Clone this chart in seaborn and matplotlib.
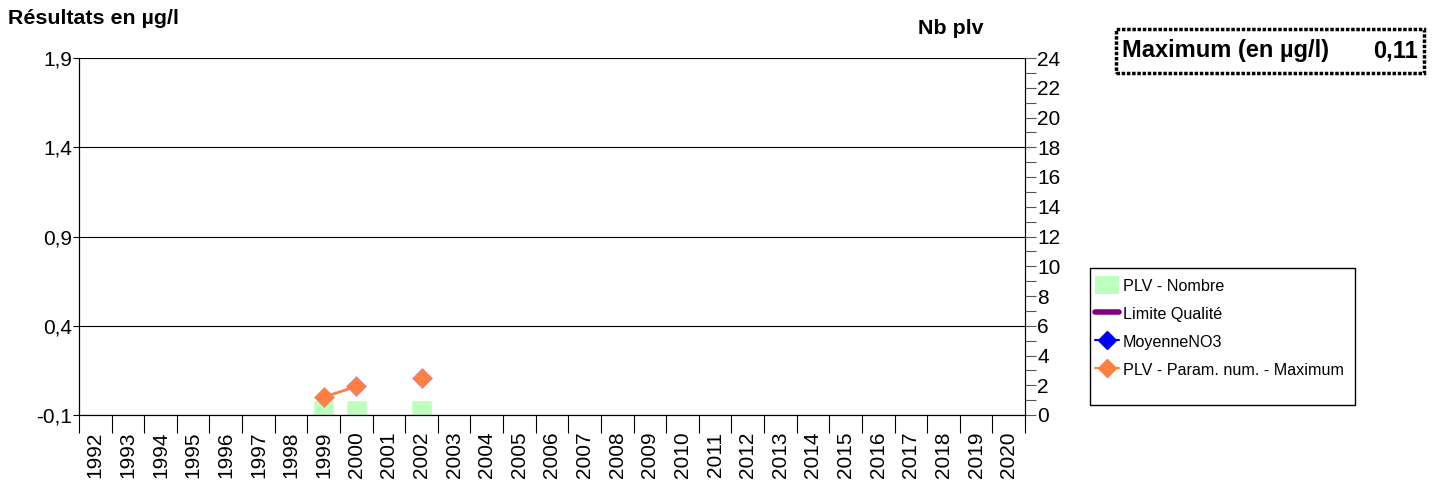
import numpy as np
import pandas as pd
import matplotlib
matplotlib.use("Agg")
import matplotlib.pyplot as plt
import seaborn as sns
from matplotlib.patches import Patch, Rectangle
from matplotlib.lines import Line2D
from matplotlib.ticker import MultipleLocator, FixedLocator

years = [str(y) for y in range(1992, 2021)]
nb_plv = [0, 0, 0, 0, 0, 0, 0, 1, 1, 0, 1] + [0] * 18
max_vals = [np.nan] * 7 + [0.0, 0.06, np.nan, 0.11] + [np.nan] * 18
left_ticks = [-0.1, 0.4, 0.9, 1.4, 1.9]
left_labels = ["-0,1", "0,4", "0,9", "1,4", "1,9"]
max_label = "Maximum (en µg/l)"
max_value = "0,11"

sns.set_theme(style="white")
plt.rcParams['font.family'] = ['Liberation Sans', 'DejaVu Sans']
for k in ("text.color", "axes.labelcolor", "xtick.color", "ytick.color"):
    plt.rcParams[k] = "#000000"

fig = plt.figure(figsize=(14.35, 4.82), dpi=100)
ax = fig.add_axes([79/1435, 1 - 415/482, (1025-79)/1435, (415-58)/482])
ax2 = ax.twinx()

df = pd.DataFrame({"annee": years, "nb": nb_plv, "max": max_vals})

# bars on the right axis
sns.barplot(data=df, x="annee", y="nb", order=years, ax=ax2, color="#bdffbd",
            saturation=1, width=0.65, zorder=1)
ax2.set_ylim(0, 24)
ax2.yaxis.set_major_locator(MultipleLocator(2))
ax2.yaxis.set_minor_locator(MultipleLocator(1))
ax2.tick_params(axis="y", which="major", length=8, width=0.8, labelsize=15, pad=1,
                color="#555555", labelcolor="#000000")
ax2.tick_params(axis="y", which="minor", length=8, width=0.8, color="#555555")
ax2.set_ylabel("")
ax2.set_xlabel("")

# line on left axis
ax.set_zorder(ax2.get_zorder() + 1)
ax.patch.set_visible(False)
xpos = np.arange(len(years))
ax.plot(xpos, df["max"].values, color="#ff7f40", lw=2, marker="D", markersize=10,
        markeredgecolor="#c080b0", markeredgewidth=0.4, zorder=5, clip_on=False)
ax.set_ylim(-0.1, 1.9)
ax.set_yticks(left_ticks)
ax.set_yticklabels(left_labels, fontsize=15)
ax.yaxis.grid(True, color="#000000", lw=0.8)
ax.tick_params(axis="y", length=4, width=0.8, pad=1, color="#000000", left=True)
ax.set_xlim(-0.5, len(years) - 0.5)
ax.set_xticks(xpos)
ax.set_xticklabels(years, rotation=90, fontsize=15)
ax.xaxis.set_minor_locator(FixedLocator(np.arange(-0.5, len(years), 1.0)))
ax.tick_params(axis="x", which="major", length=0, pad=12)
ax.tick_params(axis="x", which="minor", length=13, width=0.8, color="#000000", bottom=True)
ax2.set_xlim(-0.5, len(years) - 0.5)
for a in (ax, ax2):
    for s in a.spines.values():
        s.set_color("#000000")
        s.set_linewidth(0.8)
ax2.spines["right"].set_color("#555555")
ax.spines["top"].set_visible(False)
ax2.spines["top"].set_visible(False)

fig.text(8/1435, 1 - 18/482, "Résultats en µg/l", fontsize=15.4, fontweight="bold", va="center", ha="left")
fig.text(918/1435, 1 - 28/482, "Nb plv", fontsize=15.4, fontweight="bold", va="center", ha="left")

# maximum box
fig.text(1122/1435, 1 - 51/482, max_label, fontsize=17, fontweight="bold", va="center", ha="left")
fig.text(1418/1435, 1 - 51/482, max_value, fontsize=17, fontweight="bold", va="center", ha="right")
fig.add_artist(Rectangle((1116/1435, 1 - 73/482), (1424-1116)/1435, (73-29)/482,
                         transform=fig.transFigure, fill=False, lw=2.5,
                         linestyle=(0, (1.0, 0.5)), edgecolor="#000000"))

handles = [
    Patch(facecolor="#bdffbd", edgecolor="none"),
    Line2D([], [], color="#800080", lw=4),
    Line2D([], [], color="#0000ff", lw=1.5, marker="D", markersize=9),
    Line2D([], [], color="#ff7f40", lw=1.5, marker="D", markersize=9),
]
labels = ["PLV - Nombre", "Limite Qualité", "MoyenneNO3", "PLV - Param. num. - Maximum"]
leg = fig.legend(handles, labels, loc="upper left", bbox_to_anchor=(1088/1435, 1 - 269/482),
                 fontsize=11.6, frameon=False, borderpad=0.45, labelspacing=0.62,
                 handlelength=1.5, handleheight=1.35, handletextpad=0.2, borderaxespad=0)
fig.add_artist(Rectangle((1090/1435, 1 - 405/482), (1355-1090)/1435, (405-268)/482,
                         transform=fig.transFigure, fill=False, lw=1, edgecolor="#000000"))

fig.savefig("out.png", dpi=100)
